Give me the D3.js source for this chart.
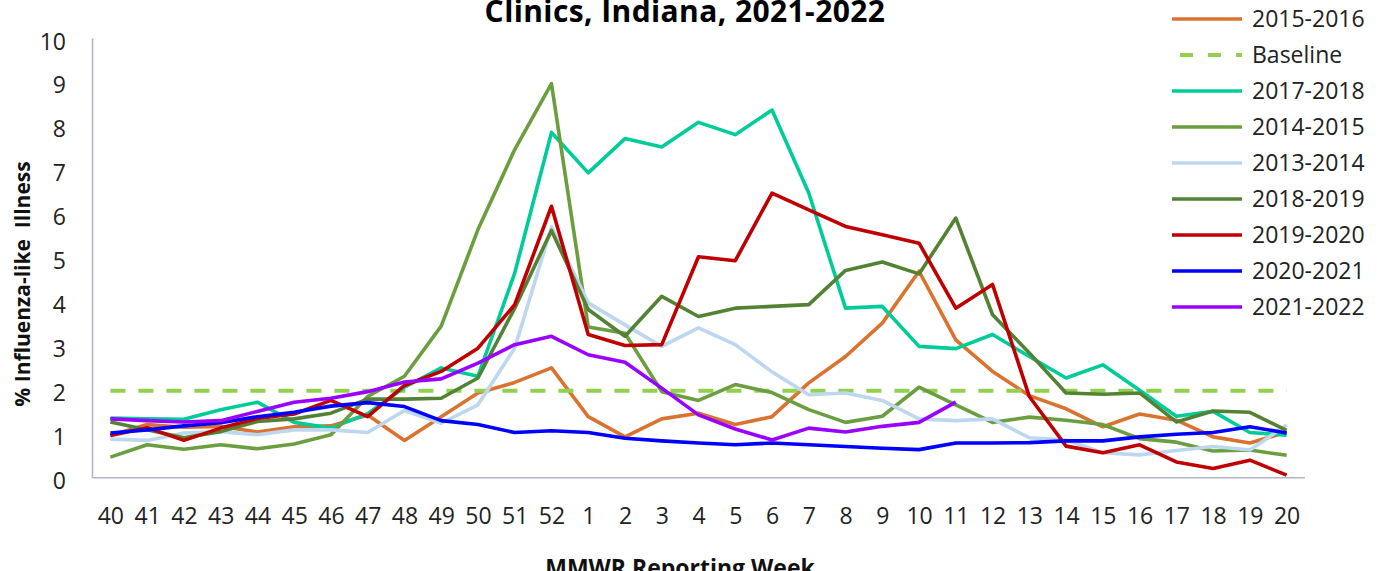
<!DOCTYPE html>
<html><head><meta charset="utf-8">
<script src="https://cdn.jsdelivr.net/npm/d3@7"></script>
<style>
html,body{margin:0;padding:0;background:#fff;}
svg{display:block;}
text{font-family:"Open Sans", "Noto Sans", sans-serif;}
</style></head>
<body>
<svg id="chart" width="1379" height="571"></svg>
<script>
const weeks = ["40","41","42","43","44","45","46","47","48","49","50","51","52","1","2","3","4","5","6","7","8","9","10","11","12","13","14","15","16","17","18","19","20"];
const yTicks = [0,1,2,3,4,5,6,7,8,9,10];

const s2015_2016 = [0.95,1.20,1.14,1.16,1.03,1.15,1.17,1.42,0.84,1.38,1.92,2.16,2.49,1.38,0.92,1.33,1.46,1.20,1.38,2.15,2.75,3.51,4.69,3.13,2.41,1.86,1.56,1.15,1.44,1.30,0.92,0.78,1.03];
const baseline = [1.97,1.97,1.97,1.97,1.97,1.97,1.97,1.97,1.97,1.97,1.97,1.97,1.97,1.97,1.97,1.97,1.97,1.97,1.97,1.97,1.97,1.97,1.97,1.97,1.97,1.97,1.97,1.97,1.97,1.97,1.97,1.97,1.97];
const s2017_2018 = [1.35,1.33,1.32,1.54,1.71,1.25,1.12,1.45,2.05,2.49,2.30,4.65,7.85,6.93,7.71,7.52,8.08,7.80,8.36,6.47,3.85,3.89,2.98,2.93,3.25,2.75,2.26,2.56,1.98,1.39,1.50,1.02,0.96];
const s2014_2015 = [0.46,0.74,0.64,0.74,0.65,0.76,0.97,1.84,2.30,3.44,5.64,7.46,8.96,3.42,3.28,1.95,1.75,2.11,1.93,1.54,1.25,1.39,2.05,1.65,1.25,1.37,1.30,1.20,0.88,0.80,0.60,0.62,0.50];
const s2013_2014 = [0.87,0.84,1.01,1.04,0.97,1.08,1.08,1.02,1.52,1.23,1.65,2.94,5.70,3.97,3.47,2.98,3.40,3.02,2.40,1.88,1.92,1.75,1.33,1.29,1.33,0.90,0.85,0.56,0.51,0.61,0.70,0.62,1.19];
const s2018_2019 = [1.26,1.08,0.90,1.04,1.27,1.33,1.46,1.78,1.78,1.80,2.26,3.85,5.62,3.82,3.21,4.12,3.66,3.85,3.89,3.93,4.71,4.90,4.63,5.90,3.70,2.83,1.92,1.89,1.92,1.26,1.51,1.48,1.07];
const s2019_2020 = [0.95,1.13,0.84,1.12,1.34,1.44,1.75,1.38,2.09,2.41,2.94,3.93,6.17,3.25,3.00,3.02,5.02,4.93,6.47,6.09,5.71,5.52,5.33,3.85,4.39,1.84,0.71,0.56,0.74,0.35,0.20,0.39,0.05];
const s2020_2021 = [1.01,1.08,1.17,1.24,1.38,1.48,1.62,1.70,1.61,1.29,1.20,1.02,1.06,1.02,0.89,0.83,0.78,0.74,0.78,0.74,0.70,0.66,0.63,0.78,0.78,0.79,0.83,0.83,0.92,0.98,1.02,1.15,1.01];
const s2021_2022 = [1.33,1.29,1.26,1.29,1.50,1.71,1.80,1.95,2.17,2.24,2.60,3.02,3.21,2.79,2.62,2.03,1.42,1.10,0.85,1.12,1.03,1.16,1.25,1.71,null,null,null,null,null,null,null,null,null];

const seriesNames = ["2015-2016","Baseline","2017-2018","2014-2015","2013-2014","2018-2019","2019-2020","2020-2021","2021-2022"];
const seriesValues = [s2015_2016, baseline, s2017_2018, s2014_2015, s2013_2014, s2018_2019, s2019_2020, s2020_2021, s2021_2022];
const seriesColors = ["#D9732F","#92D050","#00CC99","#6A9E3F","#BDD7EE","#548235","#C00000","#0000FF","#9900FF"];

const svg = d3.select("#chart");
const plotL = 92, plotR = 1305, plotT = 38, plotB = 477.3;

const x = d3.scalePoint().domain(weeks).range([plotL, plotR]).padding(0.5);
const y = d3.scaleLinear().domain([0, 10]).range([plotB, plotT]);

// title (visible second line)
svg.append("text").attr("x", 685).attr("y", 22).attr("text-anchor", "middle")
  .attr("font-size", 30).attr("font-weight", "bold").attr("fill", "#000")
  .attr("letter-spacing", 0.4)
  .text("Clinics, Indiana, 2021-2022");

// axes
const axisColor = "#B3B5CF";
const yAxis = svg.append("g").attr("transform", `translate(${plotL},0)`)
  .call(d3.axisLeft(y).tickValues(yTicks).tickSize(0).tickPadding(26).tickFormat(d3.format("d")));
yAxis.select(".domain").attr("stroke", axisColor).attr("stroke-width", 1.6);
yAxis.selectAll("text").attr("font-size", 23).attr("fill", "#222").attr("font-family", "'Open Sans', sans-serif").attr("dy", "0.48em");

const xAxis = svg.append("g").attr("transform", `translate(0,${plotB})`)
  .call(d3.axisBottom(x).tickSize(0).tickPadding(30));
xAxis.select(".domain").attr("stroke", axisColor).attr("stroke-width", 1.6)
  .attr("d", `M${plotL},0.5H${plotR}`);
xAxis.selectAll("text").attr("font-size", 23).attr("fill", "#222").attr("font-family", "'Open Sans', sans-serif");

// axis titles
svg.append("text").attr("transform", "translate(30,284) rotate(-90)").attr("text-anchor", "middle")
  .attr("font-size", 21).attr("font-weight", "bold").attr("fill", "#111")
  .style("white-space", "pre")
  .text("% Influenza-like  Illness");
svg.append("text").attr("x", 680).attr("y", 576).attr("text-anchor", "middle")
  .attr("font-size", 23).attr("font-weight", "bold").attr("fill", "#111")
  .text("MMWR Reporting Week");

// lines
const line = d3.line().defined(d => d != null).x((d, i) => x(weeks[i])).y(d => y(d));
seriesValues.forEach((vals, k) => {
  const p = svg.append("path").datum(vals)
    .attr("fill", "none").attr("stroke", seriesColors[k])
    .attr("stroke-width", k === 1 ? 4 : 3.6).attr("stroke-linejoin", "round")
    .attr("d", line);
  if (k === 1) p.attr("stroke-dasharray", "15,13");
});

// legend
const lg = svg.append("g");
seriesNames.forEach((name, k) => {
  const ly = 19 + 36 * k;
  const l = lg.append("line").attr("x1", 1172).attr("x2", 1242).attr("y1", ly).attr("y2", ly)
    .attr("stroke", seriesColors[k]).attr("stroke-width", k === 1 ? 4 : 3.6);
  if (k === 1) l.attr("stroke-dasharray", "13,15").attr("stroke-dashoffset", -8);
  lg.append("text").attr("x", 1252).attr("y", ly).attr("dy", "0.36em")
    .attr("font-size", 23).attr("fill", "#222").text(name);
});
</script>
</body></html>
